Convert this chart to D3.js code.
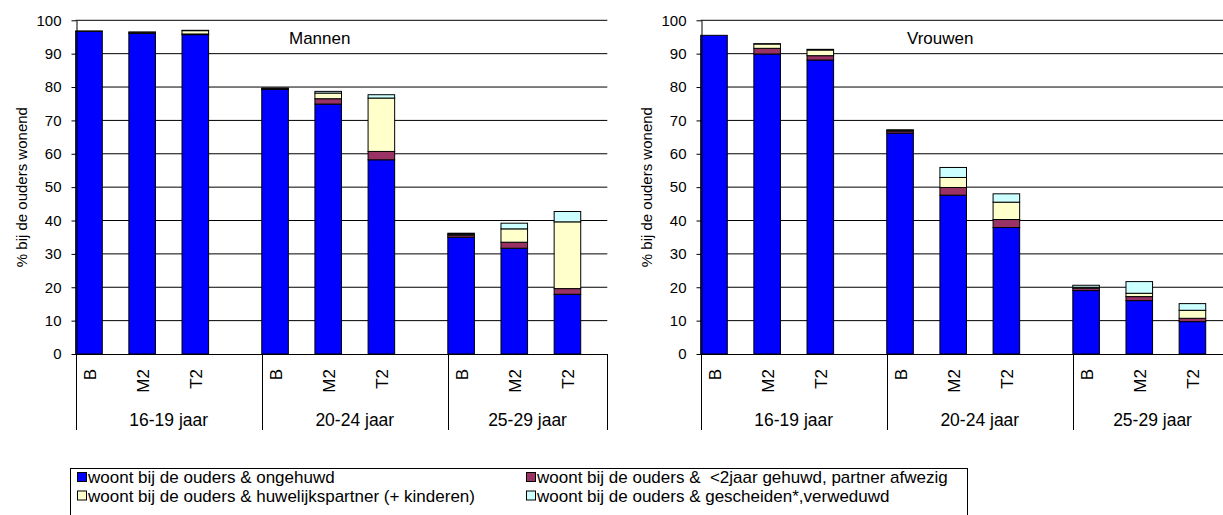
<!DOCTYPE html>
<html>
<head>
<meta charset="utf-8">
<script src="https://cdn.jsdelivr.net/npm/d3@7/dist/d3.min.js"></script>
<style>
  html, body { margin: 0; padding: 0; background: #fff; }
  svg { display: block; font-family: "Liberation Sans", Arial, sans-serif; }
</style>
</head>
<body>
<svg id="chart" width="1223" height="515"></svg>
<script>
// ---- data ----
const categories = ["B", "M2", "T2"];
const groups = ["16-19 jaar", "20-24 jaar", "25-29 jaar"];
const seriesKeys = ["ongehuwd", "kortGehuwd", "huwelijkspartner", "gescheiden"];
const seriesLabels = [
  "woont bij de ouders & ongehuwd",
  "woont bij de ouders &  <2jaar gehuwd, partner afwezig",
  "woont bij de ouders & huwelijkspartner (+ kinderen)",
  "woont bij de ouders & gescheiden*,verweduwd"
];
const seriesColors = ["#0000FF", "#993366", "#FFFFCC", "#CCFFFF"];
const yTicks = [0, 10, 20, 30, 40, 50, 60, 70, 80, 90, 100];

// Mannen (order: 16-19 B,M2,T2 | 20-24 B,M2,T2 | 25-29 B,M2,T2)
const mannenOngehuwd       = [96.7, 96.1, 95.7, 79.3, 74.9, 58.2, 35.0, 31.7, 17.9];
const mannenKortGehuwd     = [0.1, 0.3, 0.2, 0.2, 1.6, 2.5, 0.6, 1.8, 1.7];
const mannenHuwelijkspartner = [0.0, 0.1, 1.0, 0.1, 1.7, 16.0, 0.3, 4.0, 20.0];
const mannenGescheiden     = [0.0, 0.0, 0.1, 0.1, 0.5, 1.0, 0.3, 1.7, 3.1];

// Vrouwen
const vrouwenOngehuwd       = [95.5, 89.9, 88.1, 66.2, 47.6, 37.9, 19.0, 16.0, 9.7];
const vrouwenKortGehuwd     = [0.0, 1.7, 1.3, 0.6, 2.3, 2.4, 0.7, 1.2, 1.0];
const vrouwenHuwelijkspartner = [0.0, 1.3, 1.7, 0.2, 3.0, 5.2, 0.3, 1.0, 2.4];
const vrouwenGescheiden     = [0.0, 0.1, 0.2, 0.2, 3.0, 2.5, 0.6, 3.5, 2.0];

function buildRows(a, b, c, d) {
  const rows = [];
  groups.forEach((g, gi) => {
    categories.forEach((cat, ci) => {
      const i = gi * categories.length + ci;
      rows.push({ group: gi, cat: ci, label: cat,
        ongehuwd: a[i], kortGehuwd: b[i], huwelijkspartner: c[i], gescheiden: d[i] });
    });
  });
  return rows;
}

const svg = d3.select("#chart");
svg.append("rect").attr("width", 1223).attr("height", 515).attr("fill", "#fff");

function drawPanel(left, title, titleX, rows) {
  const plotW = 531.6;
  const y0 = 354, y1 = 20.3;
  // slot units: each group = 3 bars + half slot gap => 3.5 units; total 10
  const x = d3.scaleLinear().domain([0, 10]).range([left, left + plotW]);
  const y = d3.scaleLinear().domain([0, 100]).range([y0, y1]);
  const g = svg.append("g");

  // gridlines
  g.append("g").selectAll("line").data(yTicks.filter(v => v > 0)).join("line")
    .attr("x1", left).attr("x2", left + plotW)
    .attr("y1", d => y(d)).attr("y2", d => y(d))
    .attr("stroke", "#000").attr("stroke-width", 1);

  // stacked bars
  const stack = d3.stack().keys(seriesKeys);
  const layers = stack(rows);
  const slot = d => d.data.group * 3.5 + d.data.cat;
  g.append("g").selectAll("g").data(layers).join("g")
    .attr("fill", (d, i) => seriesColors[i])
    .selectAll("rect").data(d => d.filter(s => s[1] - s[0] > 0.001)).join("rect")
    .attr("x", d => x(slot(d)))
    .attr("width", d => x(slot(d) + 0.5) - x(slot(d)))
    .attr("y", d => y(d[1]))
    .attr("height", d => y(d[0]) - y(d[1]))
    .attr("stroke", "#000").attr("stroke-width", 1);

  // y axis
  const ya = g.append("g").attr("transform", `translate(${Math.round(left) + 0.5},0)`)
    .call(d3.axisLeft(y).tickValues(yTicks).tickSize(5).tickSizeOuter(0).tickPadding(10));
  ya.select(".domain").attr("stroke", "#000");
  ya.selectAll(".tick line").attr("stroke", "#000");
  ya.selectAll("text").attr("font-size", 15).attr("fill", "#000")
    .attr("font-family", "Liberation Sans, Arial, sans-serif");

  // x axis baseline
  g.append("line").attr("x1", left).attr("x2", left + plotW)
    .attr("y1", y0 + 0.5).attr("y2", y0 + 0.5).attr("stroke", "#000");

  // group separators
  const seps = [0, 3.5, 7, 10];
  g.append("g").selectAll("line").data(seps).join("line")
    .attr("x1", d => Math.round(x(d)) + 0.5).attr("x2", d => Math.round(x(d)) + 0.5)
    .attr("y1", y0).attr("y2", 430)
    .attr("stroke", "#000").attr("stroke-width", 1);

  // category labels (rotated)
  g.append("g").selectAll("text").data(rows).join("text")
    .attr("transform", d => {
      const cx = x(d.group * 3.5 + d.cat + 0.25) + 7;
      return `translate(${cx},369) rotate(-90)`;
    })
    .attr("text-anchor", "end")
    .attr("font-size", 17).attr("fill", "#000")
    .text(d => d.label);

  // group labels (centered in their span)
  const spanStart = i => i * 3.5;
  const spanEnd = i => Math.min(10, (i + 1) * 3.5);
  g.append("g").selectAll("text").data(groups).join("text")
    .attr("x", (d, i) => x((spanStart(i) + spanEnd(i)) / 2))
    .attr("y", 426)
    .attr("text-anchor", "middle")
    .attr("font-size", 17.5).attr("fill", "#000")
    .text(d => d);

  // title
  g.append("text").attr("x", titleX).attr("y", 44)
    .attr("font-size", 17).attr("fill", "#000").text(title);

  // y axis title
  g.append("text")
    .attr("transform", `translate(${left - 49},${(y0 + y1) / 2}) rotate(-90)`)
    .attr("text-anchor", "middle")
    .attr("font-size", 15).attr("fill", "#000")
    .text("% bij de ouders wonend");
}

drawPanel(75.7, "Mannen", 289,
  buildRows(mannenOngehuwd, mannenKortGehuwd, mannenHuwelijkspartner, mannenGescheiden));
drawPanel(700.7, "Vrouwen", 907,
  buildRows(vrouwenOngehuwd, vrouwenKortGehuwd, vrouwenHuwelijkspartner, vrouwenGescheiden));

// legend
const legend = svg.append("g");
legend.append("rect").attr("x", 70.5).attr("y", 468.5).attr("width", 897).attr("height", 60)
  .attr("fill", "#fff").attr("stroke", "#000");
const legPos = [[77, 483], [526, 483], [77, 501.5], [526, 501.5]];
legend.selectAll("g.item").data(seriesLabels).join("g").attr("class", "item")
  .attr("transform", (d, i) => `translate(${legPos[i][0]},${legPos[i][1]})`)
  .each(function (d, i) {
    const it = d3.select(this);
    it.append("rect").attr("x", 0.5).attr("y", -10.5).attr("width", 9).attr("height", 9)
      .attr("fill", seriesColors[i]).attr("stroke", "#000");
    it.append("text").attr("x", 11).attr("y", 0).attr("font-size", 17)
      .attr("fill", "#000").style("white-space", "pre").text(d);
  });
</script>
</body>
</html>
